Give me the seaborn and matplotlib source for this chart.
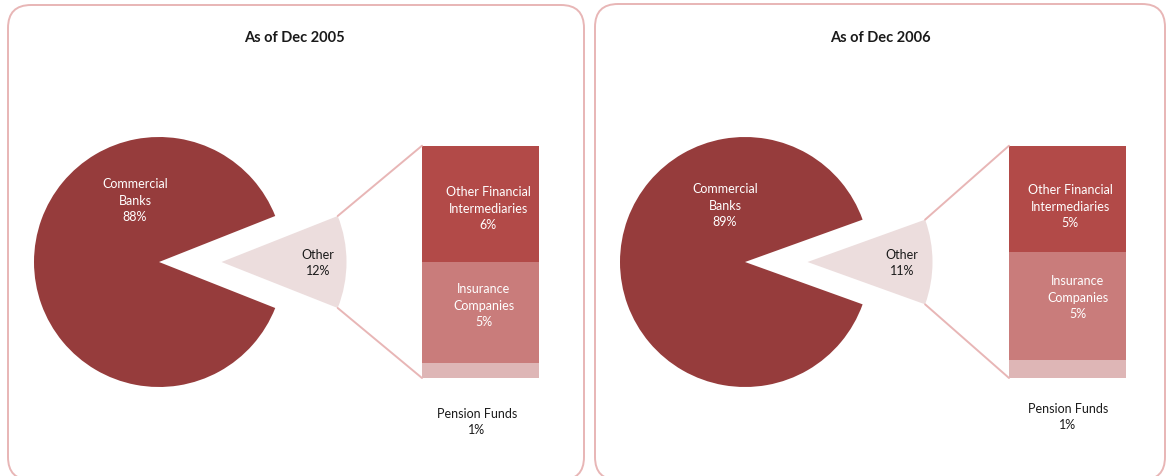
import math
import matplotlib
matplotlib.use("Agg")
import matplotlib.pyplot as plt
import seaborn as sns
from matplotlib.patches import FancyBboxPatch, ConnectionPatch

# Shares of financial-sector assets (%)
titles = ["As of Dec 2005", "As of Dec 2006"]
commercial_banks = [88, 89]
other_financial = [6.0, 5.05]
insurance = [5.2, 5.1]
pension_funds = [0.8, 0.85]

pie_names = ["Commercial\nBanks", "Other"]
bar_names = ["Other Financial\nIntermediaries", "Insurance\nCompanies", "Pension Funds"]

# Palette
C_BANKS = "#963C3C"
C_OTHER = "#ECDDDD"
C_OFI = "#B24A48"
C_INS = "#C97C7B"
C_PEN = "#DEB6B6"
C_LINE = "#E8B6B6"
C_TEXT = "#1A1A1A"

sns.set_theme(style="white")
plt.rcParams["font.family"] = ["Lato", "DejaVu Sans"]

W, H = 1168, 477
fig = plt.figure(figsize=(W / 100, H / 100), dpi=100)
bg = fig.add_axes([0, 0, 1, 1])
bg.set_xlim(0, W)
bg.set_ylim(H, 0)

# Layout in pixel units (x right, y down)
panel_boxes = [(8, 6, 576, 475), (595, 5, 570, 476)]
pie_centers = [(159, 263), (745, 263)]
pie_radius = 125
explode_frac = 0.5
bar_boxes = [(422, 146.7, 117, 232.3), (1009, 146.7, 117, 232.3)]
title_pos = [(294, 38), (880, 38)]
banks_lbl = [(135, 201), (725, 206)]
other_lbl = [(318, 263), (902, 263)]
ofi_lbl = [(488, 209), (1070, 207)]
ins_lbl = [(484, 306), (1078, 298)]
pen_lbl = [(477, 422), (1068, 417)]

FS = 9


def label(pos, s, color, **kw):
    fig.text(*pos, s, transform=bg.transData, ha="center", va="center",
             fontsize=FS, color=color, linespacing=1.45, zorder=10, **kw)


for i in range(2):
    bx, by, bw, bh = panel_boxes[i]
    bg.add_patch(FancyBboxPatch((bx, by), bw, bh,
                                boxstyle="round,pad=0,rounding_size=23",
                                facecolor="white", edgecolor=C_LINE, lw=1.4))

    other_total = other_financial[i] + insurance[i] + pension_funds[i]
    pie_vals = [other_total, commercial_banks[i]]
    half = other_total / sum(pie_vals) * 360 / 2
    wedges, _ = bg.pie(pie_vals, colors=[C_OTHER, C_BANKS],
                       explode=[explode_frac * pie_radius, 0],
                       startangle=-half, counterclock=True,
                       center=pie_centers[i], radius=pie_radius, frame=True,
                       wedgeprops=dict(linewidth=0))
    other_w = wedges[0]

    fig.text(*title_pos[i], titles[i], transform=bg.transData,
             ha="center", va="center", fontsize=10.5, fontweight="bold",
             color=C_TEXT)
    label(banks_lbl[i], f"{pie_names[0]}\n{commercial_banks[i]:.0f}%", "white")
    label(other_lbl[i], f"{pie_names[1]}\n{other_total:.0f}%", C_TEXT)
    label(pen_lbl[i], f"{bar_names[2]}\n{pension_funds[i]:.0f}%", C_TEXT)

    # Stacked breakdown of "Other" drawn as layered cumulative bars
    x0, y0, w, h = bar_boxes[i]
    bax = fig.add_axes([x0 / W, 1 - (y0 + h) / H, w / W, h / H])
    segs = [pension_funds[i], insurance[i], other_financial[i]]
    cols = [C_PEN, C_INS, C_OFI]
    cums = [sum(segs[:k + 1]) for k in range(3)]
    for cum, col in reversed(list(zip(cums, cols))):
        sns.barplot(x=[0], y=[cum], color=col, width=1, saturation=1,
                    linewidth=0, ax=bax)
    bax.set_xlim(-0.5, 0.5)
    bax.set_ylim(0, other_total)
    bax.axis("off")

    label(ofi_lbl[i], f"{bar_names[0]}\n{other_financial[i]:.0f}%", "white")
    label(ins_lbl[i], f"{bar_names[1]}\n{insurance[i]:.0f}%", "white")

    # Connectors from the exploded slice to the bar corners
    cx, cy = other_w.center
    r = other_w.r
    for ang, yb in ((other_w.theta2, 0), (other_w.theta1, other_total)):
        px = cx + r * math.cos(math.radians(ang))
        py = cy + r * math.sin(math.radians(ang))
        con = ConnectionPatch(xyA=(px, py), coordsA=bg.transData,
                              xyB=(-0.5, yb), coordsB=bax.transData,
                              color=C_LINE, lw=1.4)
        fig.add_artist(con)

bg.set_xlim(0, W)
bg.set_ylim(H, 0)
bg.set_aspect("auto")
bg.axis("off")

fig.savefig("out.png", dpi=100)
